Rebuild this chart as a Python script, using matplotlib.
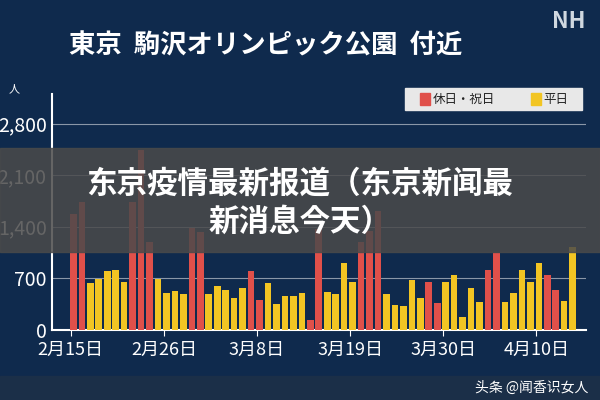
import matplotlib
matplotlib.use("Agg")
import matplotlib.pyplot as plt
from matplotlib.patches import Rectangle

plt.rcParams['font.family'] = ['Noto Sans CJK JP', 'DejaVu Sans']

values = [1578, 1730, 631, 686, 796, 810, 645, 1730, 2443, 1194,
          686, 508, 535, 494, 1386, 1331, 494, 590, 549, 439,
          576, 796, 412, 631, 357, 467, 467, 508, 137, 1373,
          521, 494, 906, 645, 1194, 1345, 1620, 494, 343, 330,
          672, 439, 645, 370, 645, 741, 178, 576, 384, 810,
          1043, 384, 508, 810, 645, 906, 741, 549, 398, 1125]
holiday = [1,1,0,0,0,0,0,1,1,1, 0,0,0,0,1,1,0,0,0,0,
           0,1,1,0,0,0,0,0,1,1, 0,0,0,0,1,1,1,0,0,0,
           0,0,1,1,0,0,0,0,0,1, 1,0,0,0,0,0,1,1,0,0]
tick_idx = [0, 11, 22, 33, 44, 55]
tick_labels = ['2月15日', '2月26日', '3月8日', '3月19日', '3月30日', '4月10日']
yticks = [0, 700, 1400, 2100, 2800]
ytick_labels = ['0', '700', '1,400', '2,100', '2,800']

navy = '#0f2a4d'
red = '#e0504a'
yellow = '#f2c523'

fig = plt.figure(figsize=(6, 4), dpi=100, facecolor=navy)
ax = fig.add_axes([0.087, 0.175, 0.89, 0.59])
ax.set_facecolor(navy)
colors = [red if h else yellow for h in holiday]
ax.bar(range(len(values)), values, width=0.78, color=colors, zorder=3)
ax.set_ylim(0, 3200)
ax.set_xlim(-2.5, 60.6)
ax.set_yticks(yticks)
ax.set_yticklabels(ytick_labels, color='white', fontsize=14)
ax.set_xticks([i - 0.3 for i in tick_idx])
ax.set_xticklabels(tick_labels, color='white', fontsize=13)
ax.tick_params(axis='y', length=0, pad=4)
ax.tick_params(axis='x', colors='white', length=4)
for yv in yticks[1:]:
    ax.axhline(yv, color='#8a97a8', lw=0.8, zorder=1)
for s in ['top', 'right']:
    ax.spines[s].set_visible(False)
ax.spines['left'].set_color('white')
ax.spines['bottom'].set_color('white')
ax.spines['left'].set_linewidth(1.5)
ax.spines['bottom'].set_linewidth(1.5)
ax.text(-0.06, 1.0, '人', transform=ax.transAxes, color='white', fontsize=8, ha='right', va='bottom')

fig.text(0.115, 0.885, '東京  駒沢オリンピック公園  付近', color='white', fontsize=19, fontweight='bold', va='center')
fig.text(0.92, 0.945, 'NH', color='#d0d8e0', fontsize=16, fontweight='bold', style='italic', va='center')

# legend box
fig.patches.append(Rectangle((0.675, 0.725), 0.295, 0.055, transform=fig.transFigure, color='#e8e8e8', zorder=5))
fig.patches.append(Rectangle((0.70, 0.738), 0.016, 0.03, transform=fig.transFigure, color=red, zorder=6))
fig.text(0.722, 0.752, '休日・祝日', fontsize=9, color='#222222', va='center', zorder=7)
fig.patches.append(Rectangle((0.885, 0.738), 0.016, 0.03, transform=fig.transFigure, color=yellow, zorder=6))
fig.text(0.906, 0.752, '平日', fontsize=9, color='#222222', va='center', zorder=7)

# overlay band
fig.patches.append(Rectangle((0, 0.37), 1, 0.26, transform=fig.transFigure, color='#4a4a4a', alpha=0.85, zorder=10))
fig.text(0.5, 0.54, '东京疫情最新报道（东京新闻最', color='white', fontsize=22, fontweight='bold', ha='center', va='center', zorder=11)
fig.text(0.5, 0.445, '新消息今天）', color='white', fontsize=22, fontweight='bold', ha='center', va='center', zorder=11)

# watermark strip
fig.patches.append(Rectangle((0, 0), 1, 0.06, transform=fig.transFigure, color='#1b2f48', zorder=0))
fig.text(0.98, 0.03, '头条 @闻香识女人', color='white', fontsize=10, ha='right', va='center', zorder=11)

fig.savefig('out.png', dpi=100, facecolor=navy)
